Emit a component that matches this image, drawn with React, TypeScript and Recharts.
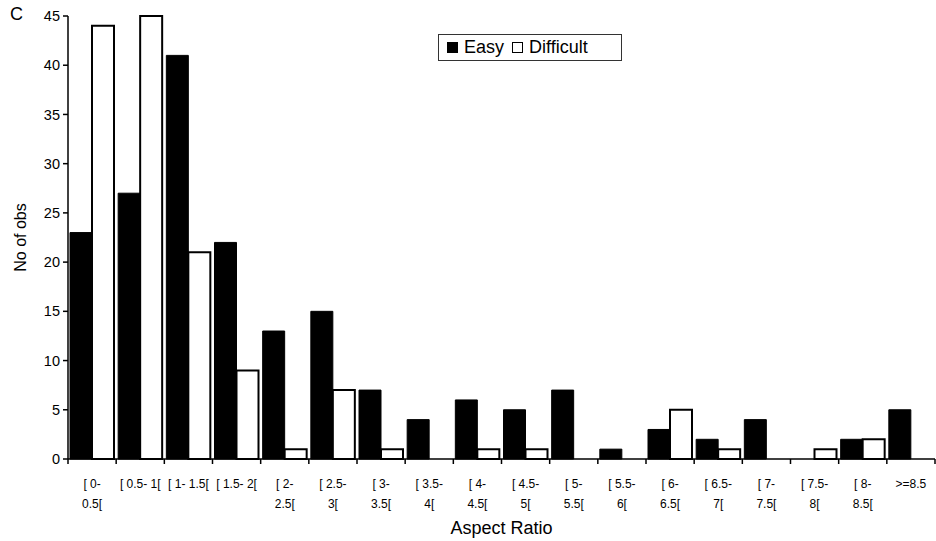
import { BarChart, Bar, XAxis, YAxis, Legend } from "recharts";

// bins of aspect ratio; "|" marks where the tick label wraps
const categories = [
  "[ 0-|0.5[", "[ 0.5- 1[", "[ 1- 1.5[", "[ 1.5- 2[", "[ 2-|2.5[", "[ 2.5-|3[",
  "[ 3-|3.5[", "[ 3.5-|4[", "[ 4-|4.5[", "[ 4.5-|5[", "[ 5-|5.5[", "[ 5.5-|6[",
  "[ 6-|6.5[", "[ 6.5-|7[", "[ 7-|7.5[", "[ 7.5-|8[", "[ 8-|8.5[", ">=8.5",
];
const easy = [23, 27, 41, 22, 13, 15, 7, 4, 6, 5, 7, 1, 3, 2, 4, 0, 2, 5];
const difficult = [44, 45, 21, 9, 1, 7, 1, 0, 1, 1, 0, 0, 5, 1, 0, 1, 2, 0];
const yTicks = [0, 5, 10, 15, 20, 25, 30, 35, 40, 45];

const W = 936;
const H = 541;
const MARGIN = { top: 16, right: 1, bottom: 4, left: 0 };
const Y_AXIS_W = 68;
const X_AXIS_H = 78;
const BAND = (W - MARGIN.left - MARGIN.right - Y_AXIS_W) / categories.length;
const FONT = "Arial, 'Liberation Sans', sans-serif";

const data = categories.map((name, i) => ({
  name,
  easy: easy[i],
  difficult: difficult[i],
}));

function CategoryTick(props: any) {
  const { x, y, payload, index } = props;
  const half = BAND / 2;
  const lines = String(payload.value).split("|");
  const last = index === categories.length - 1;
  return (
    <g>
      <line x1={x - half} x2={x - half} y1={y} y2={y + 5} stroke="#000" strokeWidth={1.5} />
      {last && <line x1={x + half} x2={x + half} y1={y} y2={y + 5} stroke="#000" strokeWidth={1.5} />}
      {lines.map((l, i) => (
        <text
          key={i}
          x={x}
          y={y + 29 + i * 20}
          textAnchor="middle"
          fontSize={12}
          fill="#000"
          style={{ whiteSpace: "pre" }}
        >
          {l}
        </text>
      ))}
    </g>
  );
}

function LegendBox() {
  const sq = (fill: string) => ({
    display: "inline-block",
    width: 11,
    height: 11,
    boxSizing: "border-box" as const,
    background: fill,
    border: "1.5px solid #000",
    marginRight: 6,
  });
  return (
    <div
      style={{
        border: "1px solid #333",
        width: 184,
        height: 27,
        boxSizing: "border-box",
        display: "flex",
        alignItems: "center",
        paddingLeft: 8,
        fontFamily: FONT,
        fontSize: 18,
        color: "#000",
        background: "#fff",
      }}
    >
      <span style={sq("#000")} />
      <span style={{ marginRight: 8 }}>Easy</span>
      <span style={sq("#fff")} />
      <span>Difficult</span>
    </div>
  );
}

export default function App() {
  return (
    <div style={{ position: "absolute", left: 0, top: 0, width: W, height: H, background: "#fff" }}>
      <div style={{ position: "absolute", left: 10, top: 4, fontFamily: FONT, fontSize: 18 }}>C</div>
      <BarChart
        width={W}
        height={H}
        data={data}
        margin={MARGIN}
        barCategoryGap={2}
        barGap={0}
        style={{ fontFamily: FONT }}
      >
        <XAxis
          dataKey="name"
          height={X_AXIS_H}
          interval={0}
          tickSize={0}
          tickMargin={0}
          tickLine={false}
          axisLine={{ stroke: "#000", strokeWidth: 1.5 }}
          tick={<CategoryTick />}
          label={{ value: "Aspect Ratio", position: "insideBottom", offset: 3, fontSize: 18, fill: "#000" }}
        />
        <YAxis
          width={Y_AXIS_W}
          domain={[0, 45]}
          ticks={yTicks}
          interval={0}
          tickSize={5}
          tickMargin={3}
          tick={{ fontSize: 14.5, fill: "#000" }}
          tickLine={{ stroke: "#000", strokeWidth: 1.5 }}
          axisLine={{ stroke: "#000", strokeWidth: 1.5 }}
          label={{ value: "No of obs", angle: -90, position: "center", dx: -14, fontSize: 16, fill: "#000" }}
        />
        <Legend
          layout="vertical"
          verticalAlign="middle"
          align="center"
          content={<LegendBox />}
          wrapperStyle={{ left: 438, top: 34, width: 184 }}
        />
        <Bar dataKey="easy" name="Easy" fill="#000" stroke="#000" strokeWidth={1} isAnimationActive={false} />
        <Bar dataKey="difficult" name="Difficult" fill="#fff" stroke="#000" strokeWidth={2} isAnimationActive={false} />
      </BarChart>
    </div>
  );
}
